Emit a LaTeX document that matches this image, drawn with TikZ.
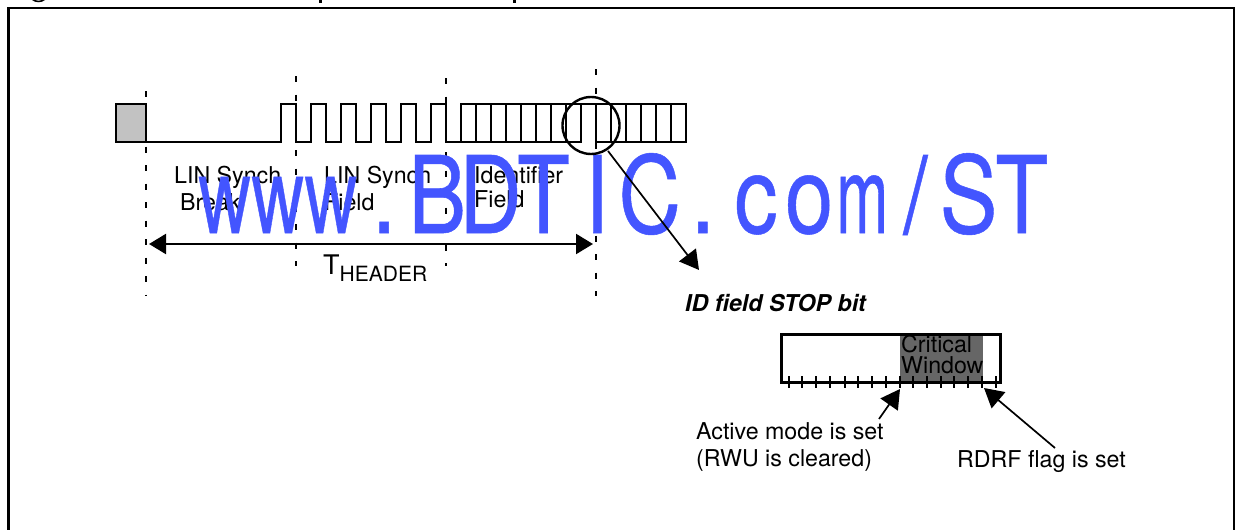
\documentclass[tikz,border=0pt]{standalone}
\usepackage{fontspec}
\usepackage{graphicx}
\setmainfont{TeX Gyre Heros}
\newfontfamily\wmfont[FakeBold=0.5]{TeX Gyre Heros}
\usetikzlibrary{arrows.meta}
\definecolor{wmblue}{RGB}{67,85,255}
\newcommand{\wmc}[1]{\makebox[65.6pt][c]{#1}}
\newcommand{\wmn}[2]{\makebox[65.6pt][c]{\scalebox{#1}[1]{#2}}}
\tikzset{
  wave/.style={line width=2.5pt,line join=miter,line cap=butt},
  frameline/.style={line width=2.6pt,line join=miter},
  guide/.style={line width=2.4pt,dash pattern=on 6pt off 12.5pt},
  dim/.style={line width=2.2pt,{Triangle[length=17pt,width=20pt]}-{Triangle[length=17pt,width=20pt]}},
  callout/.style={line width=1.7pt,-{Triangle[length=19pt,width=21pt]}},
  label/.style={anchor=base west,inner sep=0pt,font=\fontsize{23.2pt}{26pt}\selectfont},
  tick/.style={line width=1.7pt},
  watermark/.style={anchor=base west,inner sep=0pt,text=wmblue,xscale=0.81,transform shape,font=\fontsize{107pt}{107pt}\wmfont}
}
\begin{document}
\begin{tikzpicture}[x=1pt,y=-1pt]
\useasboundingbox (0,0) rectangle (1235,530);
\fill[white] (0,0) rectangle (1235,530);
% clipped caption descenders
\fill (32,0) .. controls (35,3) and (42,3) .. (45,0) -- (42,0) .. controls (40,1) and (37,1) .. (35,0) -- cycle;
\fill (319,0) rectangle (322,3);
\fill (513,0) rectangle (516,3);
% frame
\draw[frameline] (8.5,530) -- (8.5,8) -- (1234,8) -- (1234,530);
% labels
\node[label] (lab1a) at (174,183) {LIN Synch};
\node[label] (lab1b) at (180,210) {Break};
\node[label] (lab2a) at (324,183) {LIN Synch};
\node[label] (lab2b) at (324,210) {Field};
\node[label] (lab3a) at (474,183) {Identifier};
\node[label] (lab3b) at (474,207) {Field};
\node[anchor=base west,inner sep=0pt] (theader) at (323,274) {\fontsize{27pt}{27pt}\selectfont T\raisebox{-7pt}{\fontsize{21pt}{21pt}\selectfont HEADER}};
% guides
\draw[guide] (146,91) -- (146,296);
\draw[guide] (296,76) -- (296,266);
\draw[guide] (446,78) -- (446,266);
\draw[guide] (596,69) -- (596,296);
% waveform
\filldraw[wave,fill=black!24] (116,104) rectangle (146,142);
\draw[wave] (146,142) -- (281,142) -- (281,104) -- (296,104) -- (296,142) -- (311,142) -- (311,104) -- (326,104) -- (326,142) -- (341,142) -- (341,104) -- (356,104) -- (356,142) -- (371,142) -- (371,104) -- (386,104) -- (386,142) -- (401,142) -- (401,104) -- (416,104) -- (416,142) -- (431,142) -- (431,104) -- (446,104) -- (446,142) -- (581,142) -- (581,104);
\draw[wave] (461,142) -- (461,104) -- (686,104) -- (686,142) -- (596,142) -- (596,104);
\foreach \x in {476,491,...,566,611,626,...,671} \draw[wave] (\x,104) -- (\x,142);
% dimension arrow
\coordinate (dimL) at (149,244);
\coordinate (dimR) at (593,244);
\draw[dim] (dimL) -- (dimR);
% watermark
\node[watermark] (wm) at (198,233) {\wmn{.84}{w}\wmn{.84}{w}\wmn{.84}{w}\wmc{.}\wmc{B}\wmc{D}\wmc{T}\wmc{I}\wmc{C}\wmc{.}\wmc{c}\wmc{o}\wmn{.72}{m}\wmc{/}\wmc{S}\wmc{T}};
% magnifier circle and callout
\node[draw,circle,line width=2.4pt,minimum size=57pt,inner sep=0pt] (lens) at (591,125.5) {};
\coordinate (lensTail) at (608,151);
\coordinate (stopTip) at (699,270);
\draw[callout] (lensTail) -- (stopTip);
% detail
\node[anchor=base west,inner sep=0pt,font=\fontsize{23.2pt}{26pt}\selectfont\bfseries\itshape] (stop) at (685,311) {ID field STOP bit};
\fill[black!60] (900,334) rectangle (983,383);
\draw[line width=3pt] (781,334) rectangle (1000,382.5);
\foreach \x in {789,802,816,830,845,858,872,886,900,913,927,941,954,968,982,996} \draw[tick] (\x,376) -- (\x,388);
\node[label] (crit) at (901,352) {Critical};
\node[label] (wind) at (901,373) {Window};
\node[label] (act) at (696,439) {Active mode is set};
\node[label] (rwu) at (696,466) {(RWU is cleared)};
\node[label] (rdrf) at (957,467) {RDRF flag is set};
\coordinate (actTail) at (879,419);
\coordinate (actTip) at (900,389);
\coordinate (rdrfTail) at (1055,448);
\coordinate (rdrfTip) at (984,388);
\draw[callout] (actTail) -- (actTip);
\draw[callout] (rdrfTail) -- (rdrfTip);
\end{tikzpicture}
\end{document}
